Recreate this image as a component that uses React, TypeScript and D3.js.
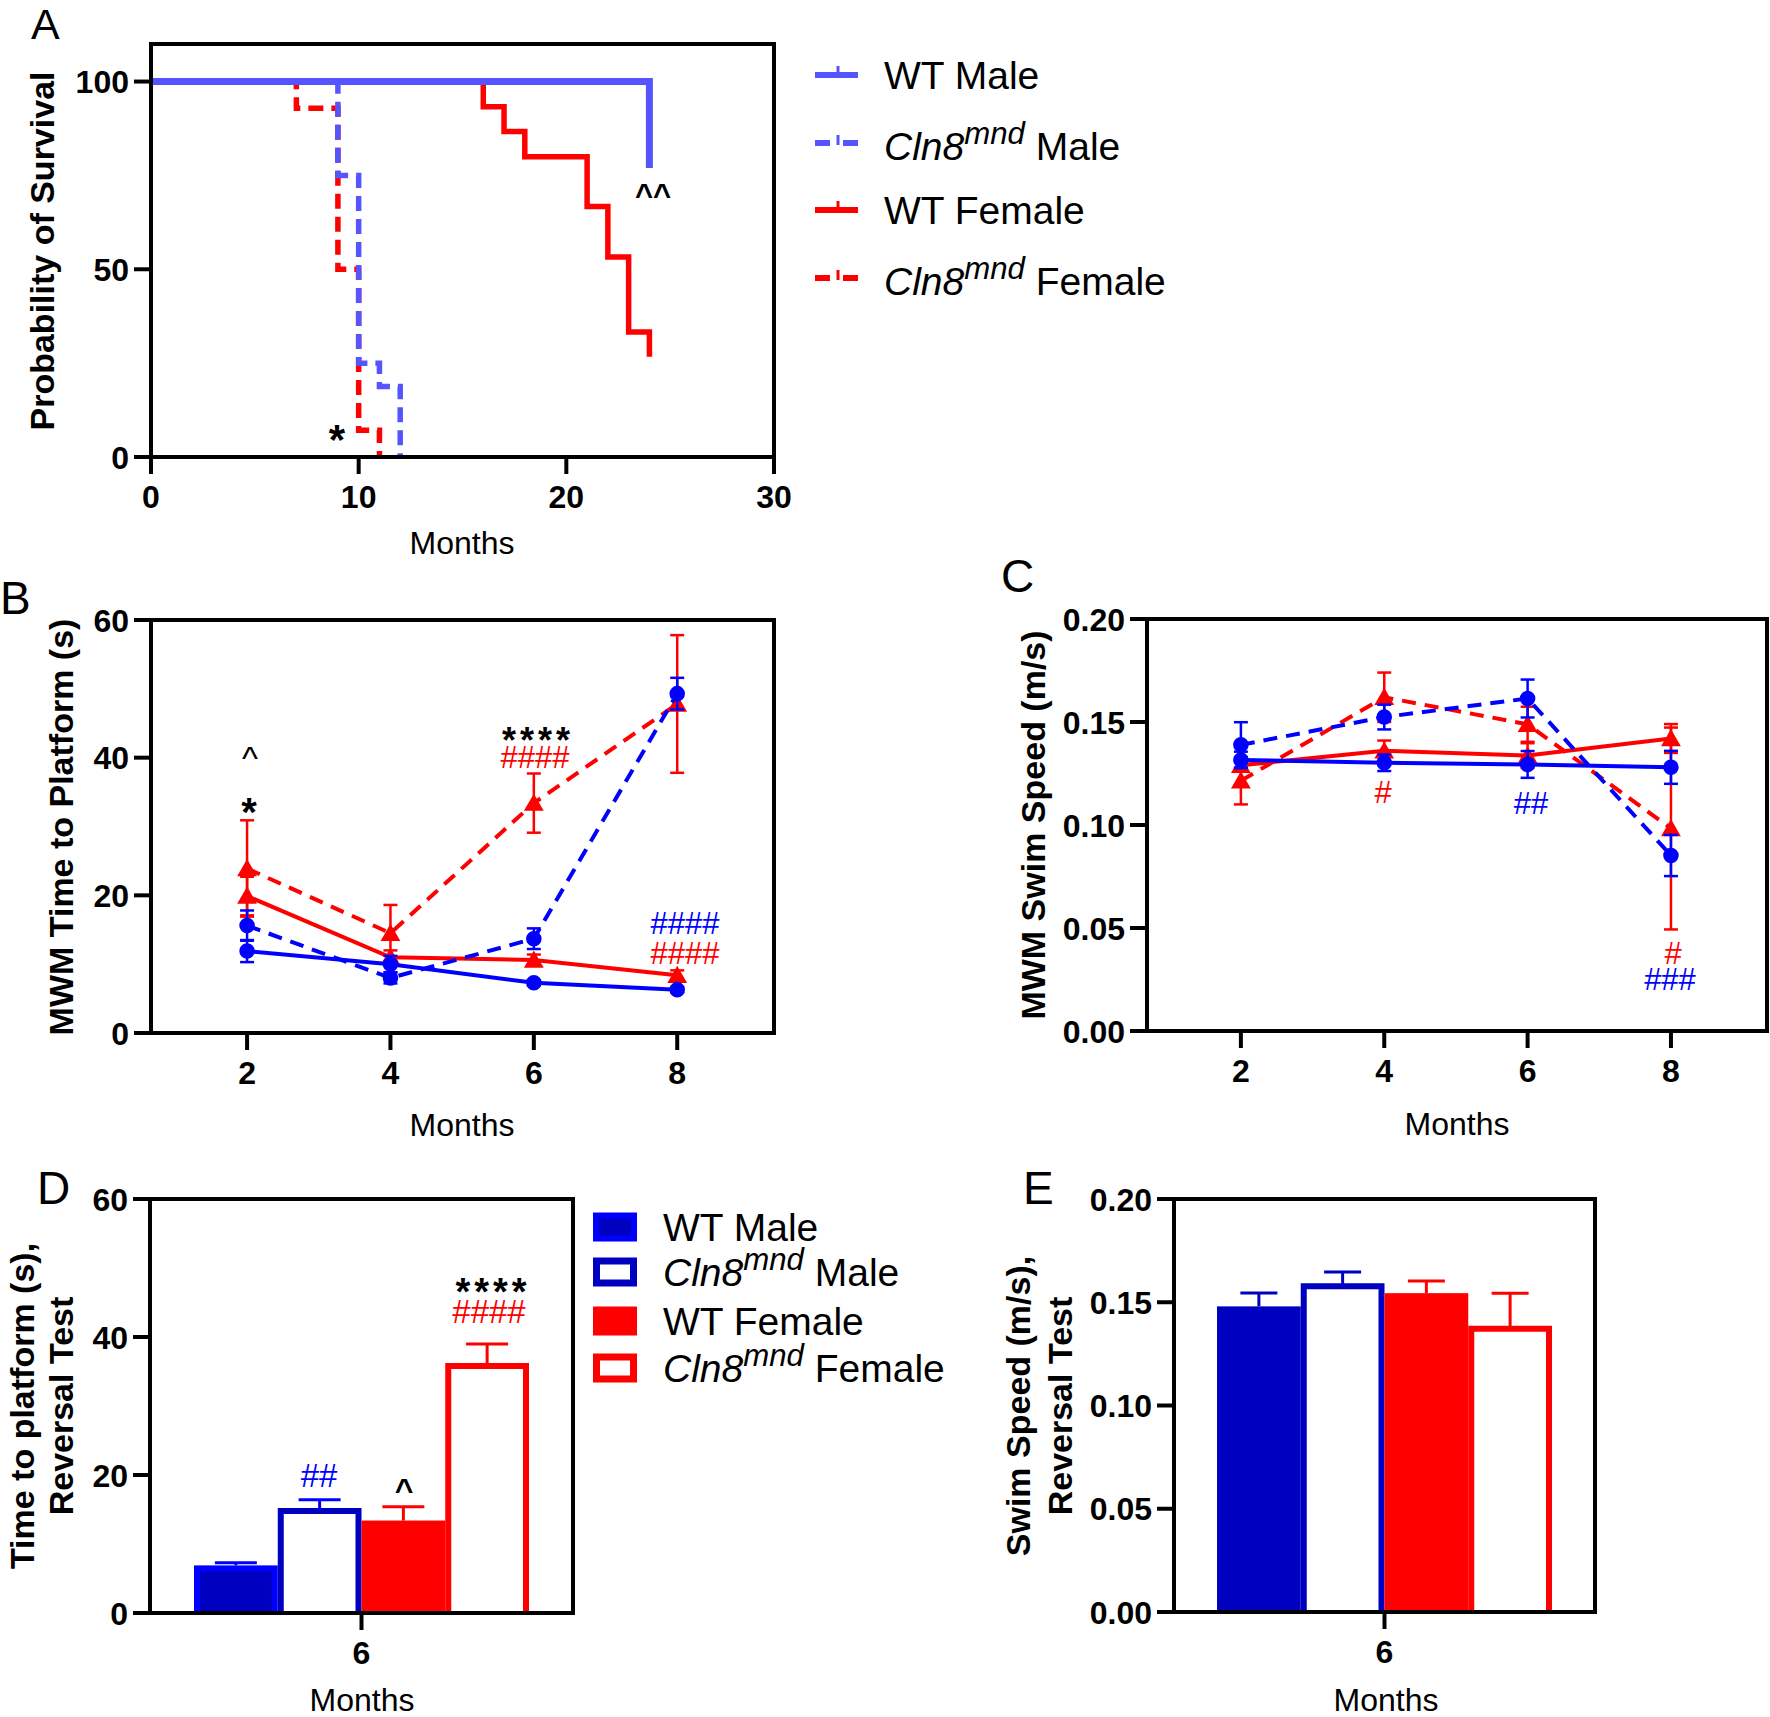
import React from 'react';
import * as d3 from 'd3';

const FONT = "'Liberation Sans', Arial, Helvetica, sans-serif";
const BLUE_A = '#5555ff';
const BLUE = '#0000ff';
const NAVY = '#0000c0';
const RED = '#ff0000';

// ---------- Panel A: survival (months, % surviving) ----------
const survWTMaleMonths = [0, 24];
const survWTMalePct = [100, 77];
const survCln8MaleMonths = [0, 9, 10, 11, 12];
const survCln8MalePct = [100, 75, 25, 18.75, 0];
const survWTFemaleMonths = [0, 16, 17, 18, 21, 22, 23, 24];
const survWTFemalePct = [100, 93.3, 86.7, 80, 66.7, 53.3, 33.3, 26.7];
const survCln8FemaleMonths = [0, 7, 9, 10, 11];
const survCln8FemalePct = [100, 92.9, 50, 7.1, 0];
const survXTicks = [0, 10, 20, 30];
const survYTicks = [0, 50, 100];

// ---------- Panel B: MWM time to platform ----------
const testMonths = [2, 4, 6, 8];
const timeWTMale = [11.9, 10.0, 7.3, 6.3];
const timeWTMaleErr = [1.6, 1.2, 0.4, 0.4];
const timeCln8Male = [15.6, 8.0, 13.7, 49.3];
const timeCln8MaleErr = [2.2, 0.8, 1.5, 2.3];
const timeWTFemale = [19.9, 11.0, 10.6, 8.4];
const timeWTFemaleErr = [2.8, 1.0, 0.8, 0.7];
const timeCln8Female = [23.9, 14.5, 33.4, 47.8];
const timeCln8FemaleErr = [7.0, 4.1, 4.3, 10.0];
const timeYTicks = [0, 20, 40, 60];

// ---------- Panel C: MWM swim speed ----------
const speedWTMale = [0.1316, 0.1302, 0.1294, 0.128];
const speedWTMaleErr = [0.004, 0.004, 0.0065, 0.008];
const speedCln8Male = [0.1389, 0.1524, 0.1614, 0.0852];
const speedCln8MaleErr = [0.011, 0.006, 0.0092, 0.01];
const speedWTFemale = [0.129, 0.136, 0.1337, 0.142];
const speedWTFemaleErr = [0.003, 0.005, 0.006, 0.007];
const speedCln8Female = [0.1215, 0.162, 0.1489, 0.0983];
const speedCln8FemaleErr = [0.0115, 0.012, 0.0085, 0.049];
const speedYTicks = [0, 0.05, 0.1, 0.15, 0.2];

// ---------- Panels D, E: reversal test at 6 months ----------
const groups = ['WT Male', 'Cln8 Male', 'WT Female', 'Cln8 Female'];
const reversalTime = [6.9, 14.8, 13.4, 35.8];
const reversalTimeErr = [0.4, 1.6, 2.0, 3.2];
const reversalSpeed = [0.148, 0.1577, 0.1544, 0.1372];
const reversalSpeedErr = [0.0065, 0.0069, 0.0059, 0.0172];
const reversalMonth = ['6'];

function Frame({ x0, x1, xScale, yScale, xTicks, yTicks, yFmt, xFmt }: any) {
  const [yb, yt] = yScale.range();
  return (
    <g>
      <rect x={x0} y={yt} width={x1 - x0} height={yb - yt} fill="none" stroke="#000" strokeWidth={4} />
      {yTicks.map((t: number) => (
        <g key={'y' + t}>
          <line x1={x0 - 17} x2={x0} y1={yScale(t)} y2={yScale(t)} stroke="#000" strokeWidth={4} />
          <text x={x0 - 22} y={yScale(t)} dy="0.36em" textAnchor="end" fontWeight="bold" fontSize={32}>
            {yFmt(t)}
          </text>
        </g>
      ))}
      {xTicks.map((t: any) => (
        <g key={'x' + t}>
          <line x1={xScale(t)} x2={xScale(t)} y1={yb} y2={yb + 17} stroke="#000" strokeWidth={4} />
          <text x={xScale(t)} y={yb + 51} textAnchor="middle" fontWeight="bold" fontSize={32}>
            {xFmt(t)}
          </text>
        </g>
      ))}
    </g>
  );
}

function YTitle({ y, lines, size = 34 }: any) {
  return (
    <g>
      {lines.map((l: any, i: number) => (
        <text key={i} transform={`translate(${l.x},${y}) rotate(-90)`} textAnchor="middle" fontWeight="bold" fontSize={size}>
          {l.t}
        </text>
      ))}
    </g>
  );
}

function SurvCurve({ months, pct, x, y, color, dashed, width = 5.5 }: any) {
  const line = d3
    .line<number>()
    .x((_, i) => x(months[i]))
    .y((d) => y(d))
    .curve(d3.curveStepAfter);
  return (
    <path d={line(pct) || ''} fill="none" stroke={color} strokeWidth={width} strokeDasharray={dashed ? '15 8' : undefined} />
  );
}

function LineSeries({ ys, errs, x, y, color, dashed, tri }: any) {
  const line = d3
    .line<number>()
    .x((_, i) => x(testMonths[i]))
    .y((d) => y(d));
  const sym = d3.symbol().type(tri ? d3.symbolTriangle : d3.symbolCircle).size(tri ? 170 : 190);
  return (
    <g>
      <path d={line(ys) || ''} fill="none" stroke={color} strokeWidth={4} strokeDasharray={dashed ? '14 9' : undefined} />
      {ys.map((v: number, i: number) => {
        const cx = x(testMonths[i]);
        const t = y(v + errs[i]);
        const b = y(v - errs[i]);
        return (
          <g key={i}>
            <line x1={cx} x2={cx} y1={t} y2={b} stroke={color} strokeWidth={2.5} />
            <line x1={cx - 7} x2={cx + 7} y1={t} y2={t} stroke={color} strokeWidth={2.5} />
            <line x1={cx - 7} x2={cx + 7} y1={b} y2={b} stroke={color} strokeWidth={2.5} />
            <path d={sym() || ''} transform={`translate(${cx},${y(v) + (tri ? 2 : 0)})`} fill={color} />
          </g>
        );
      })}
    </g>
  );
}

function Bars({ vals, errs, band, y, capW, wtMaleBorder, errColors }: any) {
  const y0 = y(0);
  const w = band.bandwidth();
  return (
    <g>
      {groups.map((g, i) => {
        const bx = band(g) as number;
        const top = y(vals[i]);
        const cx = bx + w / 2;
        const et = y(vals[i] + errs[i]);
        const err = (
          <g>
            <line x1={cx} x2={cx} y1={top} y2={et} stroke={errColors[i]} strokeWidth={3} />
            <line x1={cx - capW / 2} x2={cx + capW / 2} y1={et} y2={et} stroke={errColors[i]} strokeWidth={3} />
          </g>
        );
        if (i === 0) {
          return (
            <g key={g}>
              {err}
              {wtMaleBorder ? (
                <>
                  <rect x={bx} y={top} width={w} height={y0 - top} fill={BLUE} />
                  <rect x={bx + 6} y={top + 6} width={w - 12} height={y0 - top - 6} fill={NAVY} />
                </>
              ) : (
                <rect x={bx} y={top} width={w} height={y0 - top} fill={NAVY} />
              )}
            </g>
          );
        }
        if (i === 2) {
          return (
            <g key={g}>
              {err}
              <rect x={bx} y={top} width={w} height={y0 - top} fill={RED} />
            </g>
          );
        }
        const col = i === 1 ? NAVY : RED;
        return (
          <g key={g}>
            {err}
            <path
              d={`M${bx + 3},${y0} L${bx + 3},${top} L${bx + w - 3},${top} L${bx + w - 3},${y0}`}
              fill="#fff"
              stroke={col}
              strokeWidth={6}
            />
          </g>
        );
      })}
    </g>
  );
}

function CLabel({ x, y, rest, size = 39 }: any) {
  return (
    <text x={x} y={y} fontSize={size}>
      <tspan fontStyle="italic">Cln8</tspan>
      <tspan fontStyle="italic" fontSize={size * 0.8} dy={-16}>
        mnd
      </tspan>
      <tspan dy={16}>{' ' + rest}</tspan>
    </text>
  );
}

export default function App() {
  // Panel A
  const ax = d3.scaleLinear().domain([0, 30]).range([151, 774]);
  const ay = d3.scaleLinear().domain([0, 110]).range([457, 44]);
  // Panel B
  const bx = d3.scaleLinear().domain([0.66, 9.35]).range([151, 774]);
  const by = d3.scaleLinear().domain([0, 60]).range([1033, 620]);
  // Panel C
  const cx = d3.scaleLinear().domain([0.69, 9.34]).range([1147, 1767]);
  const cy = d3.scaleLinear().domain([0, 0.2]).range([1031, 619]);
  // Panel D
  const dx = d3.scalePoint<string>().domain(reversalMonth).range([150, 573]).padding(0.5);
  const dy = d3.scaleLinear().domain([0, 60]).range([1613, 1199]);
  const dCenter = dx('6') as number;
  const dBand = d3.scaleBand<string>().domain(groups).range([dCenter - 167.5, dCenter + 167.5]);
  // Panel E
  const ex = d3.scalePoint<string>().domain(reversalMonth).range([1174, 1595]).padding(0.5);
  const ey = d3.scaleLinear().domain([0, 0.2]).range([1612, 1199]);
  const eCenter = ex('6') as number;
  const eBand = d3.scaleBand<string>().domain(groups).range([eCenter - 167.5, eCenter + 167.5]);

  const f0 = (t: number) => String(t);
  const f2 = d3.format('.2f');

  const legendA = [
    { y: 75, color: BLUE_A, dashed: false },
    { y: 143, color: BLUE_A, dashed: true },
    { y: 210, color: RED, dashed: false },
    { y: 278, color: RED, dashed: true },
  ];

  const legendD = [1227, 1272, 1321, 1368];

  return (
    <svg
      width={1770}
      height={1717}
      style={{ position: 'absolute', left: 0, top: 0, background: '#fff' }}
      fontFamily={FONT}
    >
      <rect x={0} y={0} width={1770} height={1717} fill="#fff" />

      {/* ================= Panel A ================= */}
      <text x={31} y={39} fontSize={43}>A</text>
      <SurvCurve months={survCln8FemaleMonths} pct={survCln8FemalePct} x={ax} y={ay} color={RED} dashed />
      <SurvCurve months={survCln8MaleMonths} pct={survCln8MalePct} x={ax} y={ay} color={BLUE_A} dashed />
      <SurvCurve months={survWTFemaleMonths} pct={survWTFemalePct} x={ax} y={ay} color={RED} />
      <SurvCurve months={survWTMaleMonths} pct={survWTMalePct} x={ax} y={ay} color={BLUE_A} width={7} />
      <Frame x0={151} x1={774} xScale={ax} yScale={ay} xTicks={survXTicks} yTicks={survYTicks} yFmt={f0} xFmt={f0} />
      <text x={653} y={206} textAnchor="middle" fontWeight="bold" fontSize={31}>^^</text>
      <text x={337} y={454} textAnchor="middle" fontWeight="bold" fontSize={42}>*</text>
      <text x={462} y={554} textAnchor="middle" fontSize={32}>Months</text>
      <YTitle y={251} lines={[{ x: 54, t: 'Probability of Survival' }]} />
      {legendA.map((l, i) => (
        <g key={i}>
          {l.dashed ? (
            <>
              <line x1={815} x2={830} y1={l.y} y2={l.y} stroke={l.color} strokeWidth={6} />
              <line x1={838} x2={838} y1={l.y - 8} y2={l.y + 2} stroke={l.color} strokeWidth={3} />
              <line x1={843} x2={858} y1={l.y} y2={l.y} stroke={l.color} strokeWidth={6} />
            </>
          ) : (
            <>
              <line x1={815} x2={858} y1={l.y} y2={l.y} stroke={l.color} strokeWidth={6} />
              <line x1={838} x2={838} y1={l.y - 9} y2={l.y} stroke={l.color} strokeWidth={3} />
            </>
          )}
        </g>
      ))}
      <text x={884} y={89} fontSize={39}>WT Male</text>
      <CLabel x={884} y={160} rest="Male" />
      <text x={884} y={224} fontSize={39}>WT Female</text>
      <CLabel x={884} y={295} rest="Female" />

      {/* ================= Panel B ================= */}
      <text x={0} y={614} fontSize={46}>B</text>
      <LineSeries ys={timeWTFemale} errs={timeWTFemaleErr} x={bx} y={by} color={RED} tri />
      <LineSeries ys={timeCln8Female} errs={timeCln8FemaleErr} x={bx} y={by} color={RED} dashed tri />
      <LineSeries ys={timeWTMale} errs={timeWTMaleErr} x={bx} y={by} color={BLUE} />
      <LineSeries ys={timeCln8Male} errs={timeCln8MaleErr} x={bx} y={by} color={BLUE} dashed />
      <Frame x0={151} x1={774} xScale={bx} yScale={by} xTicks={testMonths} yTicks={timeYTicks} yFmt={f0} xFmt={f0} />
      <text x={250} y={770} textAnchor="middle" fontSize={34}>^</text>
      <text x={249} y={826} textAnchor="middle" fontWeight="bold" fontSize={40}>*</text>
      <text x={538} y={753} textAnchor="middle" fontWeight="bold" fontSize={36} letterSpacing={4}>****</text>
      <text x={535} y={768} textAnchor="middle" fontSize={31} fill={RED}>####</text>
      <text x={685} y={934} textAnchor="middle" fontSize={31} fill={BLUE}>####</text>
      <text x={685} y={964} textAnchor="middle" fontSize={31} fill={RED}>####</text>
      <text x={462} y={1136} textAnchor="middle" fontSize={32}>Months</text>
      <YTitle y={827} lines={[{ x: 73, t: 'MWM Time to Platform (s)' }]} />

      {/* ================= Panel C ================= */}
      <text x={1001} y={592} fontSize={46}>C</text>
      <LineSeries ys={speedWTFemale} errs={speedWTFemaleErr} x={cx} y={cy} color={RED} tri />
      <LineSeries ys={speedCln8Female} errs={speedCln8FemaleErr} x={cx} y={cy} color={RED} dashed tri />
      <LineSeries ys={speedWTMale} errs={speedWTMaleErr} x={cx} y={cy} color={BLUE} />
      <LineSeries ys={speedCln8Male} errs={speedCln8MaleErr} x={cx} y={cy} color={BLUE} dashed />
      <Frame x0={1147} x1={1767} xScale={cx} yScale={cy} xTicks={testMonths} yTicks={speedYTicks} yFmt={f2} xFmt={f0} />
      <text x={1383} y={803} textAnchor="middle" fontSize={31} fill={RED}>#</text>
      <text x={1531} y={814} textAnchor="middle" fontSize={31} fill={BLUE}>##</text>
      <text x={1673} y={964} textAnchor="middle" fontSize={31} fill={RED}>#</text>
      <text x={1670} y={990} textAnchor="middle" fontSize={31} fill={BLUE}>###</text>
      <text x={1457} y={1135} textAnchor="middle" fontSize={32}>Months</text>
      <YTitle y={825} lines={[{ x: 1045, t: 'MWM Swim Speed (m/s)' }]} />

      {/* ================= Panel D ================= */}
      <text x={37} y={1204} fontSize={46}>D</text>
      <Bars
        vals={reversalTime}
        errs={reversalTimeErr}
        band={dBand}
        y={dy}
        capW={42}
        wtMaleBorder
        errColors={[BLUE, BLUE, RED, RED]}
      />
      <Frame x0={150} x1={573} xScale={dx} yScale={dy} xTicks={reversalMonth} yTicks={timeYTicks} yFmt={f0} xFmt={f0} />
      <text x={319} y={1487} textAnchor="middle" fontSize={33} fill={BLUE}>##</text>
      <text x={404} y={1501} textAnchor="middle" fontWeight="bold" fontSize={32}>^</text>
      <text x={493} y={1305} textAnchor="middle" fontWeight="bold" fontSize={38} letterSpacing={4}>****</text>
      <text x={489} y={1323} textAnchor="middle" fontSize={33} fill={RED}>####</text>
      <text x={362} y={1711} textAnchor="middle" fontSize={32}>Months</text>
      <YTitle
        y={1406}
        lines={[
          { x: 34, t: 'Time to platform (s),' },
          { x: 73, t: 'Reversal Test' },
        ]}
      />
      {/* legend D */}
      <rect x={593} y={legendD[0] - 14.5} width={44} height={29} fill={BLUE} />
      <rect x={599} y={legendD[0] - 8.5} width={32} height={17} fill={NAVY} />
      <rect x={596.5} y={legendD[1] - 11} width={37} height={22} fill="#fff" stroke={NAVY} strokeWidth={7} />
      <rect x={593} y={legendD[2] - 14.5} width={44} height={29} fill={RED} />
      <rect x={596.5} y={legendD[3] - 11} width={37} height={22} fill="#fff" stroke={RED} strokeWidth={7} />
      <text x={663} y={legendD[0] + 14} fontSize={39}>WT Male</text>
      <CLabel x={663} y={legendD[1] + 14} rest="Male" />
      <text x={663} y={legendD[2] + 14} fontSize={39}>WT Female</text>
      <CLabel x={663} y={legendD[3] + 14} rest="Female" />

      {/* ================= Panel E ================= */}
      <text x={1023} y={1204} fontSize={46}>E</text>
      <Bars
        vals={reversalSpeed}
        errs={reversalSpeedErr}
        band={eBand}
        y={ey}
        capW={37}
        wtMaleBorder={false}
        errColors={[NAVY, NAVY, RED, RED]}
      />
      <Frame x0={1174} x1={1595} xScale={ex} yScale={ey} xTicks={reversalMonth} yTicks={speedYTicks} yFmt={f2} xFmt={f0} />
      <text x={1386} y={1711} textAnchor="middle" fontSize={32}>Months</text>
      <YTitle
        y={1406}
        lines={[
          { x: 1030, t: 'Swim Speed (m/s),' },
          { x: 1072, t: 'Reversal Test' },
        ]}
      />
    </svg>
  );
}
